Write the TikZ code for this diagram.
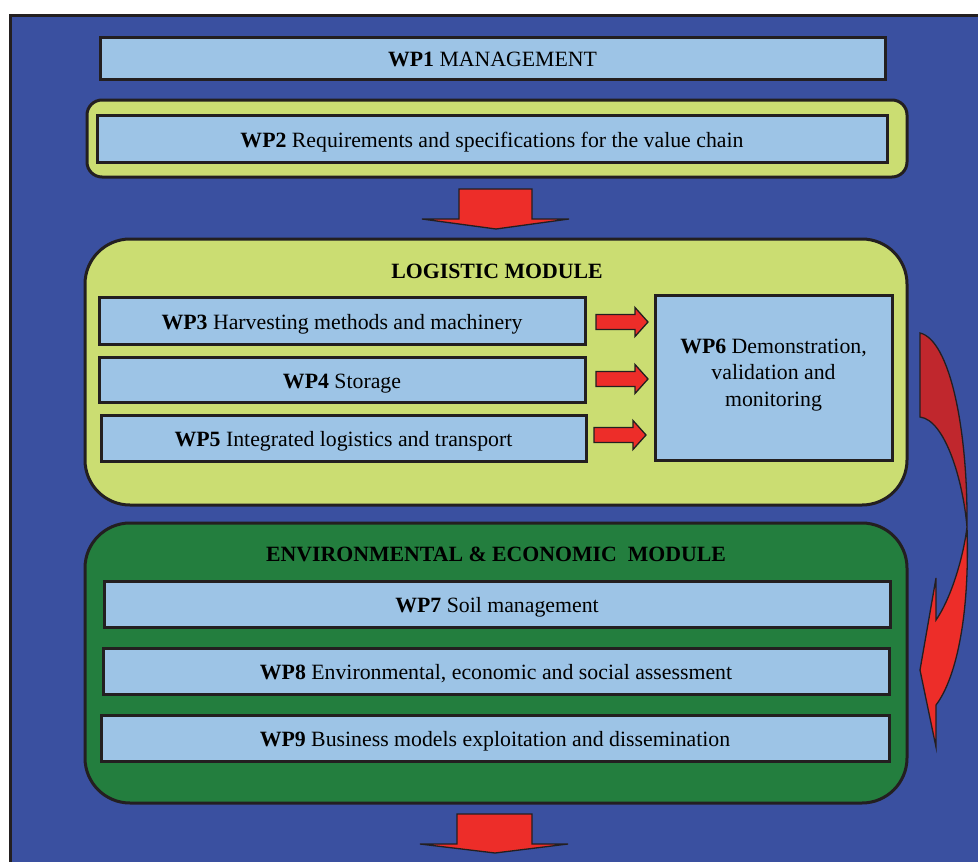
\documentclass[tikz,border=0pt]{standalone}
\usepackage{fontspec}
\setmainfont{Liberation Serif}
\definecolor{bluebg}{RGB}{58,80,160}
\definecolor{lightblue}{RGB}{157,196,230}
\definecolor{lime}{RGB}{203,221,114}
\definecolor{dkgreen}{RGB}{35,126,62}
\definecolor{arred}{RGB}{237,45,41}
\definecolor{dkred}{RGB}{192,39,45}
\definecolor{edge}{RGB}{35,31,32}
\tikzset{
  wpbox/.style={draw=edge, line width=3pt, fill=lightblue, inner sep=0pt,
    font=\fontsize{21.8}{26}\selectfont, text height=17pt, text depth=0pt},
  modbox/.style={draw=edge, line width=3pt},
  modtitle/.style={font=\fontsize{21.8}{26}\selectfont\bfseries, inner sep=0pt,
    text height=17pt, text depth=0pt},
  blockarrow/.style={draw=edge, line width=1.3pt, fill=arred, line join=miter},
}
\newcommand\rightblock[1]{%
  \draw[blockarrow] (#1) ++(0,-7.5) -- ++(39,0) -- ++(0,-7) -- ++(13,14.5)
    -- ++(-13,14.5) -- ++(0,-7) -- ++(-39,0) -- cycle;}
\begin{document}
\begin{tikzpicture}[x=1pt,y=-1pt]
\useasboundingbox (0,0) rectangle (978,862);
\clip (0,0) rectangle (978,862);
\fill[white] (0,0) rectangle (978,862);
% outer frame
\draw[draw=edge, line width=3pt, fill=bluebg] (10,15) rectangle (1000,900);
% WP1
\node[wpbox, minimum width=785pt, minimum height=42pt] (wp1) at (492.5,58)
  {\textbf{WP1} MANAGEMENT};
% WP2 group
\draw[modbox, fill=lime, rounded corners=15pt] (87,100) rectangle (907,177);
\node[wpbox, minimum width=790pt, minimum height=47pt] (wp2) at (492,138.5)
  {\textbf{WP2} Requirements and specifications for the value chain};
% down arrow 1
\coordinate (d1) at (496,229);
\draw[blockarrow] (459,189) -- (532,189) -- (532,219) -- (569,219) -- (d1)
  -- (422,219) -- (459,219) -- cycle;
% Logistic module
\draw[modbox, fill=lime, rounded corners=45pt] (85,239) rectangle (907,505);
\node[modtitle] (t1) at (497,270) {LOGISTIC MODULE};
\node[wpbox, minimum width=486pt, minimum height=47pt] (wp3) at (342,320.5)
  {\textbf{WP3} Harvesting methods and machinery};
\node[wpbox, minimum width=486pt, minimum height=45pt] (wp4) at (342,379.5)
  {\textbf{WP4} Storage};
\node[wpbox, minimum width=485pt, minimum height=46pt] (wp5) at (343.5,438)
  {\textbf{WP5} Integrated logistics and transport};
\node[wpbox, minimum width=237pt, minimum height=165pt] (wp6) at (773.5,378) {};
\node[font=\fontsize{21.8}{26.3}\selectfont, align=center, inner sep=0pt]
  (wp6t) at ([yshift=3pt]wp6.center)
  {\textbf{WP6} Demonstration,\\validation and\\monitoring};
\coordinate (a1) at (596,322);
\coordinate (a2) at (596,379);
\coordinate (a3) at (594,435);
\rightblock{a1}
\rightblock{a2}
\rightblock{a3}
% Environmental module
\draw[modbox, fill=dkgreen, rounded corners=45pt] (85,523) rectangle (907,803);
\node[modtitle] (t2) at (496,553) {ENVIRONMENTAL \& ECONOMIC\ \ MODULE};
\node[wpbox, minimum width=786pt, minimum height=46pt] (wp7) at (497,604)
  {\textbf{WP7} Soil management};
\node[wpbox, minimum width=786pt, minimum height=46pt] (wp8) at (496,671)
  {\textbf{WP8} Environmental, economic and social assessment};
\node[wpbox, minimum width=788pt, minimum height=46pt] (wp9) at (495,738)
  {\textbf{WP9} Business models exploitation and dissemination};
% down arrow 2
\coordinate (d2) at (495,853);
\draw[blockarrow] (457,814) -- (532,814) -- (532,844) -- (568,844) -- (d2)
  -- (420,844) -- (457,844) -- cycle;
% curved arrow on the right
\coordinate (ctop) at (920,333);
\coordinate (cmid) at (967,527);
\draw[draw=edge, line width=1.3pt, fill=dkred, line join=miter]
  (ctop) .. controls (950,340) and (968,430) .. (cmid)
  .. controls (963,480) and (945,420) .. (920,417) -- cycle;
\draw[draw=edge, line width=1.3pt, fill=arred, line join=miter]
  (cmid) .. controls (970,620) and (955,680) .. (936,705)
  -- (936,747) -- (920,670) -- (936,578) -- (936,620)
  .. controls (950,600) and (963,560) .. (cmid);
\end{tikzpicture}
\end{document}
